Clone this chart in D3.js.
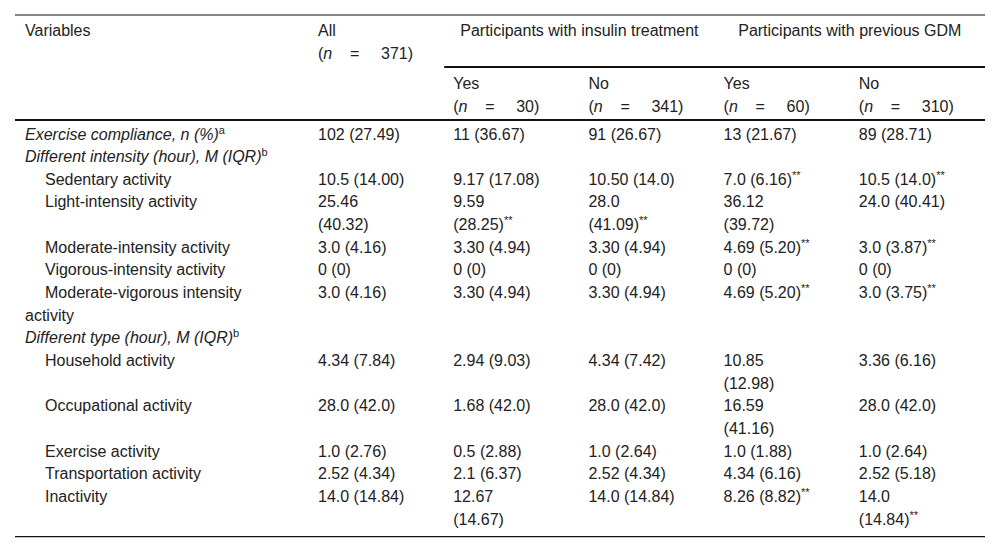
<!DOCTYPE html>
<html lang="en">
<head>
    <meta charset="UTF-8">
    <title>Exercise compliance and activity table</title>
    <script src="https://d3js.org/d3.v7.min.js"></script>
    <style>
      body { margin: 0; background: #fff; }
      text { font-family: "Liberation Sans", Arial, sans-serif; font-size: 16px; fill: #222; }
    </style>
</head>
<body>
    <script>
const groupHeaders = ['Participants with insulin treatment', 'Participants with previous GDM'];
const columns = ['All', 'Yes', 'No', 'Yes', 'No'];
const sampleSizes = [371, 30, 341, 60, 310];

const rowLabels = [
  'Exercise compliance, n (%)',
  'Different intensity (hour), M (IQR)',
  'Sedentary activity',
  'Light-intensity activity',
  'Moderate-intensity activity',
  'Vigorous-intensity activity',
  'Moderate-vigorous intensity activity',
  'Different type (hour), M (IQR)',
  'Household activity',
  'Occupational activity',
  'Exercise activity',
  'Transportation activity',
  'Inactivity'
];
// section rows are italic and not indented
const rowIsSection = [true, true, false, false, false, false, false, true, false, false, false, false, false];
const rowNotes = ['a', 'b', '', '', '', '', '', 'b', '', '', '', '', ''];

// "**" marks a significant difference
const allValues = ['102 (27.49)', '', '10.5 (14.00)', '25.46 (40.32)', '3.0 (4.16)', '0 (0)', '3.0 (4.16)',
  '', '4.34 (7.84)', '28.0 (42.0)', '1.0 (2.76)', '2.52 (4.34)', '14.0 (14.84)'];
const insulinYes = ['11 (36.67)', '', '9.17 (17.08)', '9.59 (28.25)**', '3.30 (4.94)', '0 (0)', '3.30 (4.94)',
  '', '2.94 (9.03)', '1.68 (42.0)', '0.5 (2.88)', '2.1 (6.37)', '12.67 (14.67)'];
const insulinNo = ['91 (26.67)', '', '10.50 (14.0)', '28.0 (41.09)**', '3.30 (4.94)', '0 (0)', '3.30 (4.94)',
  '', '4.34 (7.42)', '28.0 (42.0)', '1.0 (2.64)', '2.52 (4.34)', '14.0 (14.84)'];
const gdmYes = ['13 (21.67)', '', '7.0 (6.16)**', '36.12 (39.72)', '4.69 (5.20)**', '0 (0)', '4.69 (5.20)**',
  '', '10.85 (12.98)', '16.59 (41.16)', '1.0 (1.88)', '4.34 (6.16)', '8.26 (8.82)**'];
const gdmNo = ['89 (28.71)', '', '10.5 (14.0)**', '24.0 (40.41)', '3.0 (3.87)**', '0 (0)', '3.0 (3.75)**',
  '', '3.36 (6.16)', '28.0 (42.0)', '1.0 (2.64)', '2.52 (5.18)', '14.0 (14.84)**'];

const series = [allValues, insulinYes, insulinNo, gdmYes, gdmNo];

let width = 1000;
let height = 551;

const left = 15, right = 985;
const labelX = 25, indentX = 45;
const pad = 9;
const labelMax = 245, cellMax = 91;
const lineH = 22.65;
const supSize = '11px';

var svg = d3.select('body').append('svg').attr('width', width).attr('height', height);

let x = d3.scaleBand().domain(d3.range(columns.length)).range([309, right]);
let lineY = d3.scaleLinear().domain([0, 1]).range([139.5, 139.5 + lineH]);

// measuring helper for wrapping
const probe = svg.append('text').attr('x', -1000).attr('y', -1000);
function textWidth(str, italic, sup) {
  probe.selectAll('*').remove();
  probe.text(null).style('font-style', italic ? 'italic' : 'normal');
  probe.append('tspan').text(str);
  if (sup) probe.append('tspan').style('font-size', supSize).style('font-style', 'normal').text(sup);
  return probe.node().getComputedTextLength();
}
function wrap(str, max, firstMax, italic, sup) {
  const words = str.split(' ');
  const lines = [];
  let cur = '';
  words.forEach((w, i) => {
    const next = cur ? cur + ' ' + w : w;
    const lim = lines.length ? max : firstMax;
    const s = i === words.length - 1 ? sup : '';
    if (cur && textWidth(next, italic, s) > lim) {
      lines.push(cur);
      cur = w;
    } else {
      cur = next;
    }
  });
  lines.push(cur);
  return lines;
}

// build rows
let lineIndex = 0;
const rows = rowLabels.map((label, i) => {
  const section = rowIsSection[i];
  const labelLines = wrap(label, labelMax, section ? labelMax : labelMax - (indentX - labelX), section, rowNotes[i]);
  const cells = series.map(s => {
    const v = s[i];
    const sig = v.endsWith('**');
    const base = sig ? v.slice(0, -2) : v;
    return { lines: base ? wrap(base, cellMax, cellMax, false, sig ? '**' : '') : [], sig };
  });
  const n = Math.max(labelLines.length, d3.max(cells, c => c.lines.length));
  const row = { label, section, note: rowNotes[i], labelLines, cells, start: lineIndex, n };
  lineIndex += n;
  return row;
});
probe.remove();

// rules
const rules = [
  { x1: left, x2: right, y: 15, w: 1.2 },
  { x1: x(1), x2: right, y: 67, w: 2 },
  { x1: left, x2: right, y: 120, w: 2 },
  { x1: left, x2: right, y: lineY(lineIndex - 1) + 12, w: 1.3 }
];
svg.append('g').selectAll('line')
  .data(rules)
  .join('line')
    .attr('x1', d => d.x1).attr('x2', d => d.x2)
    .attr('y1', d => d.y).attr('y2', d => d.y)
    .style('stroke', '#111')
    .style('stroke-width', d => d.w);

// header
const head = svg.append('g').attr('class', 'header');
head.append('text').attr('x', labelX).attr('y', 36).text('Variables');

head.selectAll('text.group')
  .data(groupHeaders)
  .join('text')
    .attr('class', 'group')
    .attr('text-anchor', 'middle')
    .attr('x', (d, i) => (x(1 + 2 * i) + x(2 + 2 * i) + x.bandwidth()) / 2)
    .attr('y', 36)
    .text(d => d);

const colHead = head.selectAll('g.col')
  .data(columns.map((c, i) => ({ c, n: sampleSizes[i], i })))
  .join('g')
    .attr('class', 'col')
    .attr('transform', d => `translate(${x(d.i) + pad},${d.i === 0 ? 36 : 89})`);

colHead.append('text').text(d => d.c);

const nLine = colHead.append('text').attr('y', 22.5);
nLine.append('tspan').text('(');
nLine.append('tspan').style('font-style', 'italic').text('n');
nLine.append('tspan').attr('x', 32).text('=');
nLine.append('tspan').attr('x', 63).text(d => d.n + ')');

// body
const body = svg.append('g').attr('class', 'body');
const rowG = body.selectAll('g.row')
  .data(rows)
  .join('g')
    .attr('class', 'row');

rowG.each(function(r) {
  const g = d3.select(this);
  // labels
  g.selectAll('text.label')
    .data(r.labelLines)
    .join('text')
      .attr('class', 'label')
      .attr('x', (d, k) => (r.section || k > 0) ? labelX : indentX)
      .attr('y', (d, k) => lineY(r.start + k))
      .style('font-style', r.section ? 'italic' : 'normal')
      .each(function(d, k) {
        const t = d3.select(this);
        t.append('tspan').text(d);
        if (r.note && k === r.labelLines.length - 1) {
          t.append('tspan').attr('dy', -6).style('font-size', supSize).style('font-style', 'normal').text(r.note);
        }
      });

  // cells
  r.cells.forEach((c, ci) => {
    g.selectAll('text.c' + ci)
      .data(c.lines)
      .join('text')
        .attr('class', 'c' + ci)
        .attr('x', x(ci) + pad)
        .attr('y', (d, k) => lineY(r.start + k))
        .each(function(d, k) {
          const t = d3.select(this);
          t.append('tspan').text(d);
          if (c.sig && k === c.lines.length - 1) {
            t.append('tspan').attr('dy', -6).style('font-size', supSize).text('**');
          }
        });
  });
});
    </script>
</body>
</html>
